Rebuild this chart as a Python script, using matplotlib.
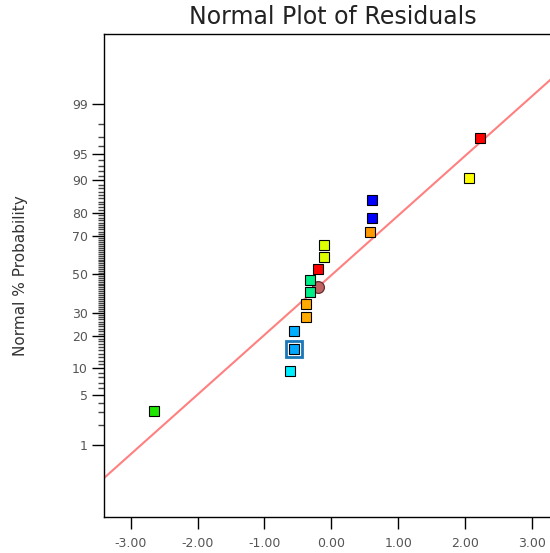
import numpy as np
import matplotlib
matplotlib.use("Agg")
import matplotlib.pyplot as plt
from statistics import NormalDist

# residuals (sorted) and their normal % probability
residuals = [-2.652, -0.622, -0.563, -0.563, -0.384, -0.384, -0.324, -0.324,
             -0.204, -0.115, -0.115, 0.572, 0.601, 0.601, 2.064, 2.228]
probability = [3.1, 9.4, 15.6, 21.9, 28.1, 34.4, 40.6, 46.9,
               53.1, 59.4, 65.6, 71.9, 78.1, 84.4, 90.6, 96.9]
point_colors = ['#1ee600', '#00eeff', '#00a8ff', '#00b0ff', '#ffaa00', '#ffaa00',
                '#00ee88', '#00ee88', '#ff0000', '#ddff00', '#ddff00', '#ff9900',
                '#0000ff', '#0000ff', '#ffff00', '#ff0000']
selected = 2  # index of highlighted run

circle_x = -0.204
circle_p = 43.2

# reference line (in z units): z = slope * residual + intercept
line_slope = 0.814
line_intercept = -0.011

major_pct = [1, 5, 10, 20, 30, 50, 70, 80, 90, 95, 99]
minor_pct = [p for p in range(2, 99) if p not in major_pct]
x_ticks = [-3, -2, -1, 0, 1, 2, 3]

nd = NormalDist()


def probit(p):
    p = np.clip(np.asarray(p, dtype=float) / 100.0, 1e-12, 1 - 1e-12)
    return np.vectorize(nd.inv_cdf, otypes=[float])(p)


def inv_probit(z):
    z = np.asarray(z, dtype=float)
    return np.vectorize(nd.cdf, otypes=[float])(z) * 100.0


W, H = 550, 553
fig = plt.figure(figsize=(W / 100, H / 100), dpi=100)
ax = fig.add_axes([104 / W, (H - 517) / H, 456 / W, (517 - 34) / H])
ax.set_yscale('function', functions=(probit, inv_probit))

xlo, xhi = -3.4, 3.42
ax.set_xlim(xlo, xhi)
ax.set_ylim(inv_probit(-3.31), inv_probit(3.28))

# fitted line
lx = np.array([xlo, xhi])
ax.plot(lx, inv_probit(line_slope * lx + line_intercept), color='#ff8080', lw=1.5, zorder=2)

ax.plot(circle_x, circle_p, 'o', ms=8.5, mfc='#c06262', mec='#603030', mew=0.9, zorder=3)

for i, (x, p) in enumerate(zip(residuals, probability)):
    if i == selected:
        ax.plot(x, p, 's', ms=11, mfc='white', mec='#1a78b8', mew=2.0, zorder=4)
        ax.plot(x, p, 's', ms=6.5, mfc=point_colors[i], mec='black', mew=0.8, zorder=5)
    else:
        ax.plot(x, p, 's', ms=7.5, mfc=point_colors[i], mec='black', mew=0.8, zorder=4)

ax.set_xticks(x_ticks)
ax.set_xticklabels([f"{t:.2f}" for t in x_ticks])
ax.set_yticks(major_pct)
ax.set_yticklabels([str(p) for p in major_pct])
ax.set_yticks(minor_pct, minor=True)
ax.xaxis.set_minor_locator(matplotlib.ticker.NullLocator())

ax.tick_params(axis='both', which='major', length=8.5, width=1, color='black',
               labelsize=9, labelcolor='#555555')
ax.tick_params(axis='x', which='major', pad=6)
ax.tick_params(axis='y', which='major', pad=3)
ax.tick_params(axis='y', which='minor', length=4, width=1, color='#444444')

for s in ax.spines.values():
    s.set_linewidth(1)

ax.set_ylabel("Normal % Probability", fontsize=11, color='#333333')
ax.yaxis.set_label_coords(-(104 - 28) / 456, 0.5)

fig.text(333 / W, 1 - 17 / H, "Normal Plot of Residuals", fontsize=17,
         ha='center', va='center', color='#222222')

fig.savefig("out.png", dpi=100)
